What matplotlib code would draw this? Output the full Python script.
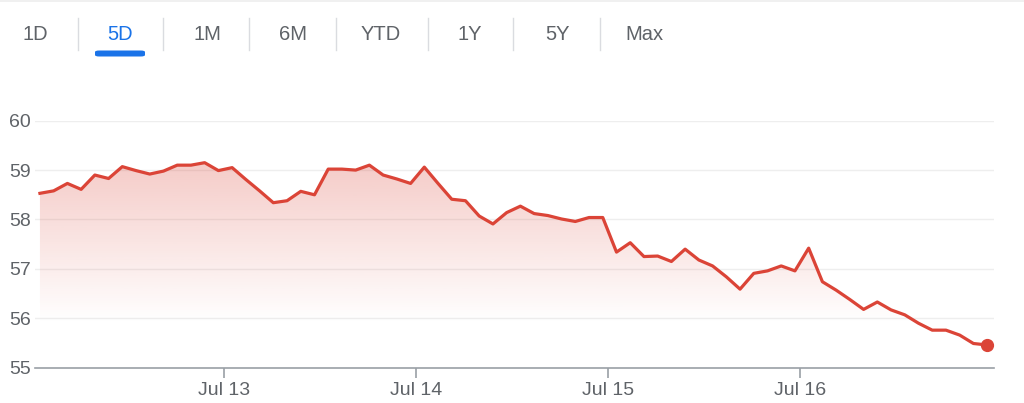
import numpy as np
import matplotlib
matplotlib.use("Agg")
import matplotlib.pyplot as plt
from matplotlib.patches import FancyBboxPatch
from matplotlib.lines import Line2D

plt.rcParams['font.family'] = ['Liberation Sans', 'DejaVu Sans']

# ---- data ----
prices = [
    58.53, 58.58, 58.73, 58.61, 58.90, 58.83, 59.07, 58.99, 58.92, 58.98, 59.10, 59.10, 59.15, 58.99,
    59.05, 58.81, 58.58, 58.34, 58.38, 58.57, 58.50, 59.02, 59.02, 59.00, 59.10, 58.90, 58.82, 58.73,
    59.06, 58.73, 58.41, 58.38, 58.07, 57.91, 58.14, 58.27, 58.12, 58.08, 58.01, 57.96, 58.04, 58.04,
    57.34, 57.53, 57.25, 57.26, 57.15, 57.40, 57.18, 57.06, 56.84, 56.59, 56.91, 56.96, 57.06, 56.96,
    57.42, 56.74, 56.57, 56.38, 56.18, 56.33, 56.17, 56.07, 55.90, 55.76, 55.76, 55.66, 55.49, 55.46,
]
x_tick_labels = ["Jul 13", "Jul 14", "Jul 15", "Jul 16"]
x_tick_pos = [13.4, 27.4, 41.4, 55.4]
y_ticks = [55, 56, 57, 58, 59, 60]
ranges = ["1D", "5D", "1M", "6M", "YTD", "1Y", "5Y", "Max"]
selected_range = "5D"

# ---- styling ----
W, H = 1024, 403
RED = "#db4437"
GRAY_TXT = "#5f6368"
BLUE = "#1a73e8"

fig = plt.figure(figsize=(W / 100, H / 100), dpi=100)
fig.patch.set_facecolor("white")

left_px, right_px, top_px, bottom_px = 35, 994, 120.7, 367.7
ax = fig.add_axes([left_px / W, (H - bottom_px) / H, (right_px - left_px) / W, (bottom_px - top_px) / H])

x = np.arange(len(prices))
y = np.array(prices)
xmin, xmax = -0.36, 69.5
ymin, ymax = 55, 60
ax.set_xlim(xmin, xmax)
ax.set_ylim(ymin, ymax)

for yt in y_ticks[1:]:
    ax.axhline(yt, color="#eeeeee", lw=1.0, zorder=0)

poly = ax.fill_between(x, y, ymin, facecolor="none", edgecolor="none")
grad_y = np.linspace(ymax, ymin, 300)
alpha = np.clip(0.085 * (grad_y - 55.9), 0, 1)
rgba = np.zeros((300, 1, 4))
rgba[..., 0] = 0xdb / 255
rgba[..., 1] = 0x44 / 255
rgba[..., 2] = 0x37 / 255
rgba[..., 3] = alpha[:, None]
im = ax.imshow(rgba, aspect="auto", extent=[xmin, xmax, ymin, ymax], origin="upper", zorder=1)
im.set_clip_path(poly.get_paths()[0], transform=ax.transData)

ax.plot(x, y, color=RED, lw=2.3, solid_joinstyle="round", zorder=3)
ax.plot([x[-1]], [y[-1]], "o", color=RED, markersize=8.5, zorder=4, clip_on=False)

for s in ["top", "right", "left"]:
    ax.spines[s].set_visible(False)
ax.spines["bottom"].set_color("#9aa0a6")
ax.spines["bottom"].set_linewidth(1.2)

ax.set_yticks(y_ticks)
ax.set_yticklabels([str(v) for v in y_ticks])
ax.tick_params(axis="y", length=0, pad=3, labelsize=14, labelcolor=GRAY_TXT)
ax.set_xticks(x_tick_pos)
ax.set_xticklabels(x_tick_labels)
ax.tick_params(axis="x", length=7.5, width=1.2, color="#9aa0a6", pad=3, labelsize=14, labelcolor=GRAY_TXT)

# ---- range selector ----
label_centers = [35, 120, 207, 293, 381, 470, 557, 644]
sep_x = [78, 163, 249, 336, 428, 513, 600]
for lab, cx in zip(ranges, label_centers):
    fig.text(cx / W, 1 - 35 / H, lab, ha="center", va="center", fontsize=14.5,
             color=BLUE if lab == selected_range else GRAY_TXT)
for sx in sep_x:
    fig.add_artist(Line2D([sx / W, sx / W], [1 - 18 / H, 1 - 50 / H], color="#dadce0", lw=1.0))
ux0, ux1, uy0, uy1 = 95, 145, 50.5, 56.5
fig.add_artist(FancyBboxPatch((ux0 / W, 1 - uy1 / H), (ux1 - ux0) / W, (uy1 - uy0) / H,
                              boxstyle="round,pad=0,rounding_size=0.004",
                              transform=fig.transFigure, facecolor=BLUE, edgecolor="none"))
fig.add_artist(Line2D([0, 1], [1 - 0.5 / H, 1 - 0.5 / H], color="#eeeeee", lw=1.2))

fig.savefig("out.png", dpi=100, facecolor="white")
